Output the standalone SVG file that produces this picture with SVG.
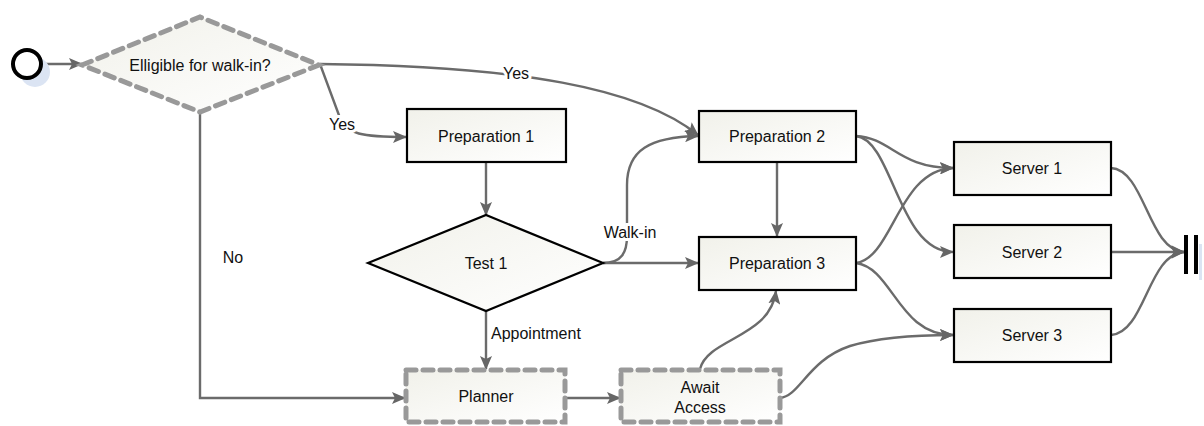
<svg xmlns="http://www.w3.org/2000/svg" width="1204" height="426" viewBox="0 0 1204 426">
<defs>
<linearGradient id="g" x1="0" y1="0" x2="1" y2="1">
<stop offset="0" stop-color="#f1f1ea"/>
<stop offset="1" stop-color="#ffffff"/>
</linearGradient>
<marker id="arr" viewBox="0 0 14 12" refX="13" refY="6" markerWidth="14" markerHeight="12" markerUnits="userSpaceOnUse" orient="auto">
<path d="M0,0 L14,6 L0,12 L3,6 Z" fill="#666"/>
</marker>
<style>
.box{fill:url(#g);stroke:#000;stroke-width:2.2}
.dash{fill:url(#g);stroke:#999;stroke-width:5;stroke-dasharray:10 7;stroke-linecap:round}
.t{font-family:"Liberation Sans",Arial,sans-serif;font-size:16px;fill:#111;text-anchor:middle;dominant-baseline:central}
.c{fill:none;stroke:#6b6b6b;stroke-width:2.4;marker-end:url(#arr)}
.lbl{font-family:"Liberation Sans",Arial,sans-serif;font-size:16px;fill:#111;dominant-baseline:central}
.halo{paint-order:stroke;stroke:#fff;stroke-width:6}
</style>
</defs>
<rect width="1204" height="426" fill="#fff"/>

<g id="connectors">
<path class="c" d="M43,64 L82,64"/>
<path class="c" d="M320,64 C520,66 640,88 698,135"/>
<path class="c" d="M320,64 L340,118 C346,134 362,137 406,137"/>
<path class="c" d="M486,162 L486,215"/>
<path class="c" d="M603,263 L698,263"/>
<path class="c" d="M603,263 C622,263 627,252 627,236 L627,185 C627,150 650,137 698,136"/>
<path class="c" d="M486,311 L486,369"/>
<path class="c" d="M200,113 L200,398 L405,398"/>
<path class="c" d="M565,398 L620,398"/>
<path class="c" d="M700,369 C708,338 770,338 776,291"/>
<path class="c" d="M780,398 C800,396 808,360 850,346 C880,337 920,335 953,335"/>
<path class="c" d="M777,162 L777,236"/>
<path class="c" d="M856,136 C892,138 898,168 953,168"/>
<path class="c" d="M856,136 C893,140 898,252 953,252"/>
<path class="c" d="M856,263 C893,258 898,170 953,168"/>
<path class="c" d="M856,263 C893,268 898,335 953,335"/>
<path class="c" d="M1111,168 C1145,170 1148,250 1184,252"/>
<path class="c" d="M1111,252 L1184,252"/>
<path class="c" d="M1111,335 C1145,333 1148,254 1184,252"/>
<text class="lbl halo" x="516" y="73" text-anchor="middle">Yes</text>
<text class="lbl halo" x="342" y="124" text-anchor="middle">Yes</text>
<text class="lbl halo" x="630" y="232" text-anchor="middle">Walk-in</text>
<text class="lbl" x="491" y="333">Appointment</text>
<text class="lbl" x="233" y="257" text-anchor="middle">No</text>
</g>

<g id="start">
<circle cx="35" cy="72" r="15" fill="#dbe4f3"/>
<circle cx="27" cy="64" r="14" fill="#fff" stroke="#000" stroke-width="4"/>
</g>

<g id="eligible">
<polygon class="dash" points="82,65 200,17 319,65 200,112"/>
<text class="t" x="200" y="65">Elligible for walk-in?</text>
</g>

<g id="prep1">
<rect class="box" x="407" y="109" width="159" height="53"/>
<text class="t" x="486" y="136">Preparation 1</text>
</g>

<g id="test1">
<polygon class="box" points="368,263 486,215 603,263 486,311"/>
<text class="t" x="486" y="263">Test 1</text>
</g>

<g id="planner">
<rect class="dash" x="406" y="370" width="159" height="52"/>
<text class="t" x="486" y="396">Planner</text>
</g>

<g id="await">
<rect class="dash" x="621" y="370" width="159" height="52"/>
<text class="t" x="700" y="387">Await</text>
<text class="t" x="700" y="407">Access</text>
</g>

<g id="prep2">
<rect class="box" x="699" y="111" width="157" height="51"/>
<text class="t" x="777" y="136">Preparation 2</text>
</g>

<g id="prep3">
<rect class="box" x="699" y="237" width="157" height="53"/>
<text class="t" x="777" y="263">Preparation 3</text>
</g>

<g id="server1">
<rect class="box" x="954" y="142" width="157" height="53"/>
<text class="t" x="1032" y="168">Server 1</text>
</g>

<g id="server2">
<rect class="box" x="954" y="225" width="157" height="53"/>
<text class="t" x="1032" y="252">Server 2</text>
</g>

<g id="server3">
<rect class="box" x="954" y="309" width="157" height="53"/>
<text class="t" x="1032" y="335">Server 3</text>
</g>

<g id="end">
<rect x="1199" y="244" width="3" height="36" fill="#dbe4f3"/>
<line x1="1186" y1="235" x2="1186" y2="274" stroke="#000" stroke-width="4"/>
<line x1="1196" y1="235" x2="1196" y2="274" stroke="#000" stroke-width="4"/>
</g>
</svg>
